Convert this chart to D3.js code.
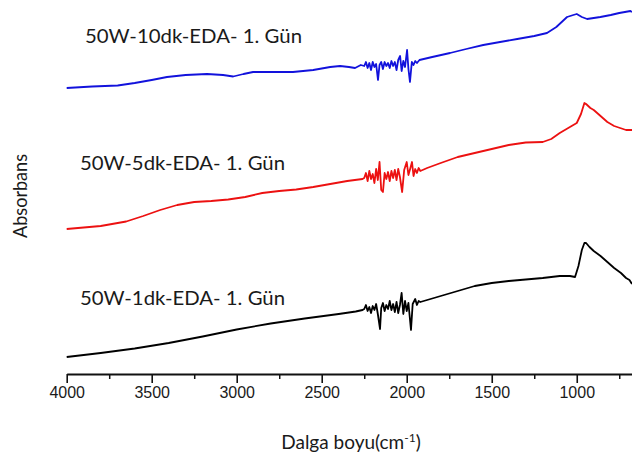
<!DOCTYPE html>
<html>
<head>
<meta charset="utf-8">
<script src="https://cdn.jsdelivr.net/npm/d3@7"></script>
<style>
    html, body { margin: 0; padding: 0; background: #fff; }
    svg { display: block; }
</style>
</head>
<body>
<div id="chart"></div>
<script>
// Dalga sayısı (cm-1) ve absorbans değerleri
const W_BLACK = [4000, 3800, 3600, 3400, 3200, 3000, 2800, 2600, 2400, 2300, 2260,
    2250, 2240, 2230, 2220, 2210, 2200, 2190, 2180, 2170, 2157, 2150, 2140, 2130, 2120, 2110,
    2100, 2090, 2080, 2070, 2060, 2050, 2040, 2030, 2020, 2010, 2000, 1990, 1975, 1965, 1950,
    1940, 1930, 1920, 1800, 1700, 1600, 1500, 1400, 1300, 1200, 1100, 1040, 1010, 990, 970,
    955, 945, 925, 900, 860, 820, 780, 740, 710, 690, 675];
const A_BLACK = [0.17, 0.21, 0.255, 0.31, 0.375, 0.445, 0.505, 0.555, 0.60, 0.625, 0.64,
    0.65, 0.69, 0.63, 0.67, 0.61, 0.68, 0.64, 0.70, 0.60, 0.45, 0.66, 0.71, 0.63, 0.69, 0.65,
    0.73, 0.64, 0.70, 0.62, 0.72, 0.61, 0.69, 0.81, 0.60, 0.73, 0.63, 0.71, 0.44, 0.70, 0.75,
    0.69, 0.73, 0.72, 0.78, 0.83, 0.88, 0.91, 0.93, 0.945, 0.96, 0.98, 0.98, 0.97, 1.08, 1.24,
    1.31, 1.31, 1.27, 1.23, 1.18, 1.12, 1.06, 1.01, 0.96, 0.94, 0.90];

const W_RED = [4000, 3800, 3650, 3550, 3450, 3350, 3250, 3150, 3050, 2950, 2850, 2750, 2650,
    2550, 2450, 2350, 2260,
    2250, 2240, 2230, 2220, 2210, 2200, 2190, 2180, 2170, 2160, 2150, 2140, 2130, 2120, 2110,
    2100, 2090, 2080, 2070, 2060, 2050, 2040, 2027, 2015, 2000, 1990, 1980, 1969, 1960, 1950,
    1940, 1930, 1920, 1880, 1800, 1700, 1600, 1500, 1400, 1300, 1200, 1150, 1100, 1050, 1000,
    975, 955, 945, 920, 900, 860, 820, 780, 745, 710, 675];
const A_RED = [1.45, 1.48, 1.525, 1.58, 1.64, 1.69, 1.72, 1.73, 1.745, 1.77, 1.81, 1.83, 1.845,
    1.87, 1.90, 1.93, 1.95,
    1.96, 2.01, 1.93, 2.03, 1.95, 2.00, 1.91, 2.05, 1.94, 2.12, 1.84, 1.82, 2.01, 1.95, 2.02,
    1.93, 2.03, 1.96, 2.04, 1.94, 2.05, 1.97, 1.82, 2.04, 2.12, 1.99, 2.05, 2.12, 1.98, 2.05,
    2.01, 2.06, 2.03, 2.06, 2.11, 2.17, 2.21, 2.25, 2.29, 2.315, 2.32, 2.35, 2.41, 2.46, 2.51,
    2.60, 2.71, 2.70, 2.66, 2.64, 2.58, 2.52, 2.48, 2.46, 2.44, 2.44];

const W_BLUE = [4000, 3850, 3700, 3600, 3500, 3410, 3300, 3175, 3080, 3021, 2960, 2904, 2800,
    2669, 2550, 2450, 2392, 2340, 2304, 2270,
    2250, 2240, 2230, 2220, 2210, 2200, 2190, 2180, 2169, 2160, 2150, 2140, 2130, 2120, 2110,
    2100, 2090, 2080, 2070, 2060, 2050, 2039, 2030, 2020, 2010, 1998, 1990, 1981, 1970, 1960,
    1950, 1940, 1925, 1850, 1745, 1650, 1550, 1451, 1350, 1250, 1175, 1120, 1057, 1020, 1000,
    970, 939, 900, 861, 800, 750, 684, 675];
const A_BLUE = [2.86, 2.875, 2.885, 2.91, 2.94, 2.97, 2.99, 3.00, 2.99, 2.975, 3.00, 3.02, 3.02,
    3.02, 3.04, 3.07, 3.08, 3.07, 3.06, 3.09,
    3.08, 3.12, 3.06, 3.11, 3.04, 3.12, 3.07, 3.10, 2.94, 3.09, 3.12, 3.05, 3.12, 3.08, 3.11,
    3.06, 3.13, 3.08, 3.12, 3.04, 3.14, 3.18, 3.03, 3.13, 3.07, 3.24, 3.05, 2.92, 3.12, 3.09,
    3.13, 3.11, 3.14, 3.17, 3.21, 3.25, 3.29, 3.32, 3.35, 3.38, 3.41, 3.47, 3.57, 3.59, 3.60,
    3.57, 3.55, 3.56, 3.57, 3.59, 3.61, 3.63, 3.62];

const SERIES_NAMES = ["50W-10dk-EDA- 1. Gün", "50W-5dk-EDA- 1. Gün", "50W-1dk-EDA- 1. Gün"];
const SERIES_COLORS = ["#1212dc", "#ec1111", "#000000"];
const MAJOR_TICKS = [4000, 3500, 3000, 2500, 2000, 1500, 1000];
const MINOR_TICKS = [3750, 3250, 2750, 2250, 1750, 1250, 750];

const width = 632, height = 459;
const margin = { top: 4, right: 0, bottom: 85, left: 66.7 };

const svg = d3.select("#chart")
    .append("svg")
    .attr("width", width)
    .attr("height", height);

const x = d3.scaleLinear()
    .domain([4000, 675])
    .range([margin.left, width - margin.right]);

const y = d3.scaleLinear()
    .domain([0, 3.7])
    .range([height - margin.bottom, margin.top]);

const series = [
    { name: SERIES_NAMES[0], color: SERIES_COLORS[0], w: W_BLUE, a: A_BLUE, lx: 85, ly: 43, len: 217 },
    { name: SERIES_NAMES[1], color: SERIES_COLORS[1], w: W_RED, a: A_RED, lx: 80, ly: 170, len: 205 },
    { name: SERIES_NAMES[2], color: SERIES_COLORS[2], w: W_BLACK, a: A_BLACK, lx: 80, ly: 305, len: 205 }
];

const line = d3.line()
    .x(d => x(d[0]))
    .y(d => y(d[1]));

svg.append("g")
    .selectAll("path")
    .data(series)
    .join("path")
    .attr("d", s => line(s.w.map((w, i) => [w, s.a[i]])))
    .attr("fill", "none")
    .attr("stroke", s => s.color)
    .attr("stroke-width", 1.8)
    .attr("stroke-linejoin", "round");

// Eğri etiketleri
svg.append("g")
    .selectAll("text")
    .data(series)
    .join("text")
    .attr("x", s => s.lx)
    .attr("y", s => s.ly)
    .attr("textLength", s => s.len)
    .attr("lengthAdjust", "spacingAndGlyphs")
    .style("font-family", "Lato, 'Open Sans', sans-serif")
    .style("font-size", "20px")
    .style("fill", "#1a1a1a")
    .text(s => s.name);

// X ekseni
const axisY = height - margin.bottom;
const xAxis = svg.append("g")
    .attr("transform", `translate(0,${axisY})`)
    .call(d3.axisBottom(x).tickValues(MAJOR_TICKS).tickFormat(d3.format("d"))
        .tickSize(9).tickSizeOuter(0).tickPadding(4));

xAxis.select(".domain").attr("stroke", "#111").attr("stroke-width", 1.8);
xAxis.selectAll(".tick line").attr("stroke", "#111").attr("stroke-width", 1.6);
xAxis.selectAll(".tick text")
    .style("font-family", "'Liberation Sans', Arial, sans-serif")
    .style("font-size", "16px")
    .style("fill", "#1a1a1a");

const minorAxis = svg.append("g")
    .attr("transform", `translate(0,${axisY})`)
    .call(d3.axisBottom(x).tickValues(MINOR_TICKS).tickSize(5).tickFormat(""));
minorAxis.select(".domain").remove();
minorAxis.selectAll(".tick line").attr("stroke", "#111").attr("stroke-width", 1.5);

// Eksen başlıkları
const xTitle = svg.append("text")
    .attr("x", 351)
    .attr("y", 449)
    .attr("text-anchor", "middle")
    .style("font-family", "Lato, 'Open Sans', sans-serif")
    .style("font-size", "19px")
    .style("fill", "#1a1a1a");
xTitle.append("tspan").text("Dalga boyu(cm");
xTitle.append("tspan")
    .attr("dy", -7)
    .style("font-size", "12px")
    .text("-1");
xTitle.append("tspan")
    .attr("dy", 7)
    .text(")");

svg.append("text")
    .attr("transform", "translate(27,196) rotate(-90)")
    .attr("text-anchor", "middle")
    .attr("textLength", 84)
    .attr("lengthAdjust", "spacingAndGlyphs")
    .style("font-family", "Lato, 'Open Sans', sans-serif")
    .style("font-size", "20px")
    .style("fill", "#1a1a1a")
    .text("Absorbans");
</script>
</body>
</html>
